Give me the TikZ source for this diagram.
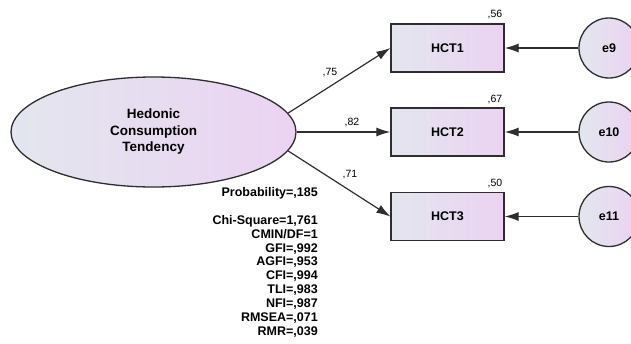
\documentclass[tikz,border=0pt]{standalone}
\usepackage{fontspec}
\setmainfont{Liberation Sans}
\usetikzlibrary{arrows.meta,shapes.geometric}
\definecolor{shadeL}{HTML}{E3E6EE}
\definecolor{shadeR}{HTML}{EBD3F2}
\definecolor{edge}{HTML}{2E2E2E}
\tikzset{
  shaded/.style={draw=edge, line width=1.3pt, left color=shadeL, right color=shadeR},
  latent/.style={shaded, ellipse, minimum width=285pt, minimum height=110pt, inner sep=0pt,
    font=\bfseries\fontsize{13.5}{16.5}\selectfont, align=center},
  observed/.style={shaded, rectangle, minimum width=113pt, minimum height=48pt, inner sep=0pt,
    font=\bfseries\fontsize{12.5}{14}\selectfont},
  errorterm/.style={shaded, circle, minimum size=60pt, inner sep=0pt,
    font=\bfseries\fontsize{12.5}{14}\selectfont},
  loading/.style={draw=edge, line width=1.2pt, -{Latex[length=14pt,width=9pt]}},
  coef/.style={font=\fontsize{10.5}{12}\selectfont, inner sep=0pt},
  fitstats/.style={font=\bfseries\fontsize{12.5}{13.9}\selectfont, align=right, inner sep=0pt, anchor=north east}
}
\begin{document}
\begin{tikzpicture}[x=1pt, y=-1pt]
\useasboundingbox (0,0) rectangle (631,343);
\clip (0,0) rectangle (631,343);
% latent construct
\node[latent] (htc) at (153.5,132) {Hedonic\\Consumption\\Tendency};
% indicators
\node[observed] (h1) at (447.5,48) {HCT1};
\node[observed] (h2) at (447.5,132) {HCT2};
\node[observed] (h3) at (447.5,216.5) {HCT3};
% error terms
\node[errorterm] (e9) at (609,48) {e9};
\node[errorterm] (e10) at (609,132) {e10};
\node[errorterm] (e11) at (609,216.5) {e11};
% loadings
\draw[loading] (htc.8) -- (h1.west);
\draw[loading] (htc.east) -- (h2.west);
\draw[loading] (htc.-8) -- (h3.west);
\draw[loading] (e9) -- (h1);
\draw[loading] (e10) -- (h2);
\draw[loading] (e11) -- (h3);
% coefficients
\node[coef] (l1) at (330,73) {,75};
\node[coef] (l2) at (352,123) {,82};
\node[coef] (l3) at (350,175) {,71};
\node[coef] (r1) at (495,15) {,56};
\node[coef] (r2) at (495,99.5) {,67};
\node[coef] (r3) at (495,183.5) {,50};
% fit statistics
\node[fitstats] (prob) at (318,187) {Probability=,185};
\node[fitstats] (stats) at (318,215) {Chi-Square=1,761\\CMIN/DF=1\\GFI=,992\\AGFI=,953\\CFI=,994\\TLI=,983\\NFI=,987\\RMSEA=,071\\RMR=,039};
\end{tikzpicture}
\end{document}
